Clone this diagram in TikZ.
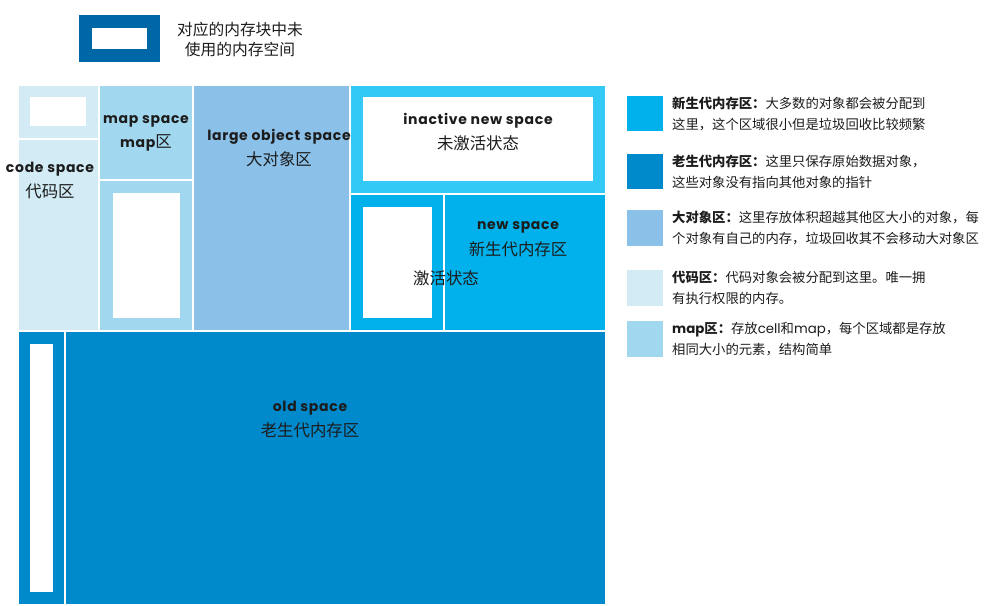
\documentclass[tikz,border=0pt]{standalone}
\usepackage{fontspec}
\setmainfont{Noto Sans CJK SC}
\newfontfamily\enfont[LetterSpace=5]{Poppins}
\newfontfamily\enplain{Poppins}
\usetikzlibrary{positioning,fit}
\definecolor{keyblue}{HTML}{0067A7}
\definecolor{oldblue}{HTML}{0089CB}
\definecolor{newblue}{HTML}{00B1EC}
\definecolor{idleblue}{HTML}{33C9F7}
\definecolor{largeblue}{HTML}{8BC0E8}
\definecolor{mapblue}{HTML}{A2D8EF}
\definecolor{codeblue}{HTML}{D2EBF5}
\definecolor{ink}{HTML}{1C1C1C}
\tikzstyle{area}=[draw=white,line width=1.5pt,inner sep=0pt]
\tikzstyle{hole}=[fill=white,inner sep=0pt]
\tikzstyle{swatch}=[inner sep=0pt]
\tikzstyle{en}=[text=ink,inner sep=0pt,font=\enfont\bfseries\fontsize{10.5}{12}\selectfont]
\tikzstyle{cn}=[text=ink,inner sep=0pt,font=\fontsize{12.3}{14}\selectfont]
\tikzstyle{note}=[text=ink,inner sep=0pt,align=left,font=\fontsize{10}{15.75}\selectfont]

\begin{document}
\begin{tikzpicture}[x=0.75pt,y=-0.75pt]
  \useasboundingbox (0,0) rectangle (992,606);
  % key for unused memory
  \node[swatch,fill=keyblue,fit={(79,15) (160,62)}] (key) {};
  \node[hole,fit={(92,28) (147,49)}] (keyhole) {};
  \node[text=ink,align=center,font=\fontsize{11.8}{15}\selectfont] (keytext) at (240,39) {对应的内存块中未\\使用的内存空间};

  % memory blocks
  \node[area,fill=codeblue,fit={(18,85) (99,139)}] (codetop) {};
  \node[hole,fit={(30,97) (86,126)}] (codehole) {};
  \node[area,fill=codeblue,fit={(18,139) (99,331)}] (code) {};
  \node[area,fill=mapblue,fit={(99,85) (193,180)}] (maptop) {};
  \node[area,fill=mapblue,fit={(99,180) (193,331)}] (map) {};
  \node[hole,fit={(113,193) (180,318)}] (maphole) {};
  \node[area,fill=largeblue,fit={(193,85) (350,331)}] (large) {};
  \node[area,fill=idleblue,fit={(350,85) (606,194)}] (idle) {};
  \node[hole,fit={(363,97) (593,181)}] (idlehole) {};
  \node[area,fill=newblue,fit={(350,194) (444,331)}] (active) {};
  \node[hole,fit={(363,207) (432,318)}] (activehole) {};
  \node[area,fill=newblue,fit={(444,194) (606,331)}] (new) {};
  \node[area,fill=oldblue,fit={(18,331) (65,605)}] (oldleft) {};
  \node[hole,fit={(30,344) (53,592)}] (oldhole) {};
  \node[area,fill=oldblue,fit={(65,331) (606,605)}] (old) {};

  % block labels
  \node[en] (codeen) at (50,169) {code space};
  \node[cn] (codecn) at (50,191) {代码区};
  \node[en] (mapen) at (146,121) {map space};
  \node[cn] (mapcn) at (146,143) {{\enfont\bfseries\fontsize{10.5}{12}\selectfont map}区};
  \node[en] (largeen) at (279,137) {large object space};
  \node[cn] (largecn) at (279,159) {大对象区};
  \node[en] (idleen) at (478,121) {inactive new space};
  \node[cn] (idlecn) at (478,143) {未激活状态};
  \node[cn] (activecn) at (446,278) {激活状态};
  \node[en] (newen) at (518,227) {new space};
  \node[cn] (newcn) at (518,249) {新生代内存区};
  \node[en] (olden) at (310,408) {old space};
  \node[cn] (oldcn) at (310,430) {老生代内存区};

  % legend
  \node[swatch,fill=newblue,fit={(627,96) (663,131)}] (newkey) {};
  \node[swatch,fill=oldblue,fit={(627,154) (663,189)}] (oldkey) {};
  \node[swatch,fill=largeblue,fit={(627,210) (663,246)}] (largekey) {};
  \node[swatch,fill=codeblue,fit={(627,270) (663,306)}] (codekey) {};
  \node[swatch,fill=mapblue,fit={(627,321) (663,357)}] (mapkey) {};
  \node[note,right=6.5pt of newkey] (newnote) {\textbf{新生代内存区：}大多数的对象都会被分配到\\这里，这个区域很小但是垃圾回收比较频繁};
  \node[note,right=6.5pt of oldkey] (oldnote) {\textbf{老生代内存区：}这里只保存原始数据对象，\\这些对象没有指向其他对象的指针};
  \node[note,right=6.5pt of largekey] (largenote) {\textbf{大对象区：}这里存放体积超越其他区大小的对象，每\\个对象有自己的内存，垃圾回收其不会移动大对象区};
  \node[note,right=6.5pt of codekey] (codenote) {\textbf{代码区：}代码对象会被分配到这里。唯一拥\\有执行权限的内存。};
  \node[note,right=6.5pt of mapkey] (mapnote) {{\enplain\bfseries map}\textbf{区：}存放{\enplain cell}和{\enplain map}，每个区域都是存放\\相同大小的元素，结构简单};
\end{tikzpicture}
\end{document}
